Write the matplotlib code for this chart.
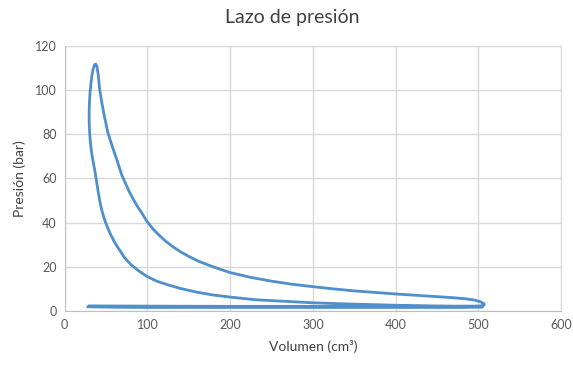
import matplotlib.pyplot as plt

plt.rcParams['font.family'] = ['Lato', 'DejaVu Sans']

# Admisión (PMS -> PMI)
vol_admision = [28, 60, 100, 200, 300, 400, 480, 505]
p_admision = [1.9, 1.7, 1.6, 1.6, 1.6, 1.6, 1.6, 1.8]

# Compresión (PMI -> PMS)
vol_compresion = [505, 450, 400, 350, 300, 260, 230, 200, 180, 160, 140, 125, 112,
                  100, 90, 80, 72, 65, 60, 55, 51, 48, 45, 42.5, 40.5, 38.5, 36.5,
                  34.5, 33, 31.7, 30.6, 29.9]
p_compresion = [1.9, 2.2, 2.6, 3.1, 3.7, 4.5, 5.1, 6.3, 7.2, 8.5, 10.2, 11.8, 13.4,
                15.5, 18, 21, 24.3, 28.3, 31.3, 35, 38.5, 41.5, 45.3, 49.5, 53.8, 58.6,
                63.3, 67.3, 70.5, 74, 78, 82]

# Combustión y expansión
vol_expansion = [29.5, 29.5, 29.8, 30.5, 31.5, 32.8, 34.3, 36, 37.5, 39, 40.5, 42,
                 44.5, 48, 52, 57, 62.5, 69, 78, 83, 88, 93, 99, 107, 115, 122, 130,
                 140, 150, 162, 175, 187, 200, 225, 250, 275, 300, 325, 350, 375, 400,
                 425, 450, 470, 485, 496, 503, 507, 507, 503]
p_expansion = [86, 90, 94, 98.5, 102.5, 106.5, 109.5, 111.5, 111.8, 110.5, 107, 101,
               95, 88, 81, 75, 69, 61.5, 54, 50.5, 47.3, 44.5, 40.8, 37, 34, 31.6,
               29.3, 26.8, 24.7, 22.5, 20.6, 19, 17.4, 15.2, 13.5, 12.1, 11, 10, 9.1,
               8.4, 7.7, 7.1, 6.5, 6.0, 5.5, 4.9, 4.1, 3.3, 2.7, 2.3]

# Escape (PMI -> PMS)
vol_escape = [495, 400, 300, 200, 100, 30]
p_escape = [2.2, 2.1, 2.1, 2.1, 2.2, 2.3]

volumen = vol_admision + vol_compresion + vol_expansion + vol_escape
presion = p_admision + p_compresion + p_expansion + p_escape

x_ticks = [0, 100, 200, 300, 400, 500, 600]
y_ticks = [0, 20, 40, 60, 80, 100, 120]

fig = plt.figure(figsize=(5.73, 3.65), dpi=100)
ax = fig.add_axes([0.113, 0.148, 0.866, 0.726])

ax.plot(volumen, presion, color='#4E8FCC', linewidth=2, solid_joinstyle='round', zorder=3)

ax.set_xlim(0, 600)
ax.set_ylim(0, 120)
ax.set_xticks(x_ticks)
ax.set_yticks(y_ticks)
ax.grid(color='#D9D9D9', linewidth=1)
ax.set_axisbelow(True)
ax.tick_params(length=0, labelsize=9, colors='#595959', pad=6)
for side in ['top', 'right']:
    ax.spines[side].set_color('#D9D9D9')
for side in ['left', 'bottom']:
    ax.spines[side].set_color('#BFBFBF')

ax.set_xlabel('Volumen (cm³)', fontsize=10, color='#404040', labelpad=6)
ax.set_ylabel('Presión (bar)', fontsize=10, color='#404040', labelpad=6)
fig.text(0.51, 0.953, 'Lazo de presión', ha='center', va='center', fontsize=14, color='#404040')

fig.savefig('out.png', dpi=100)
